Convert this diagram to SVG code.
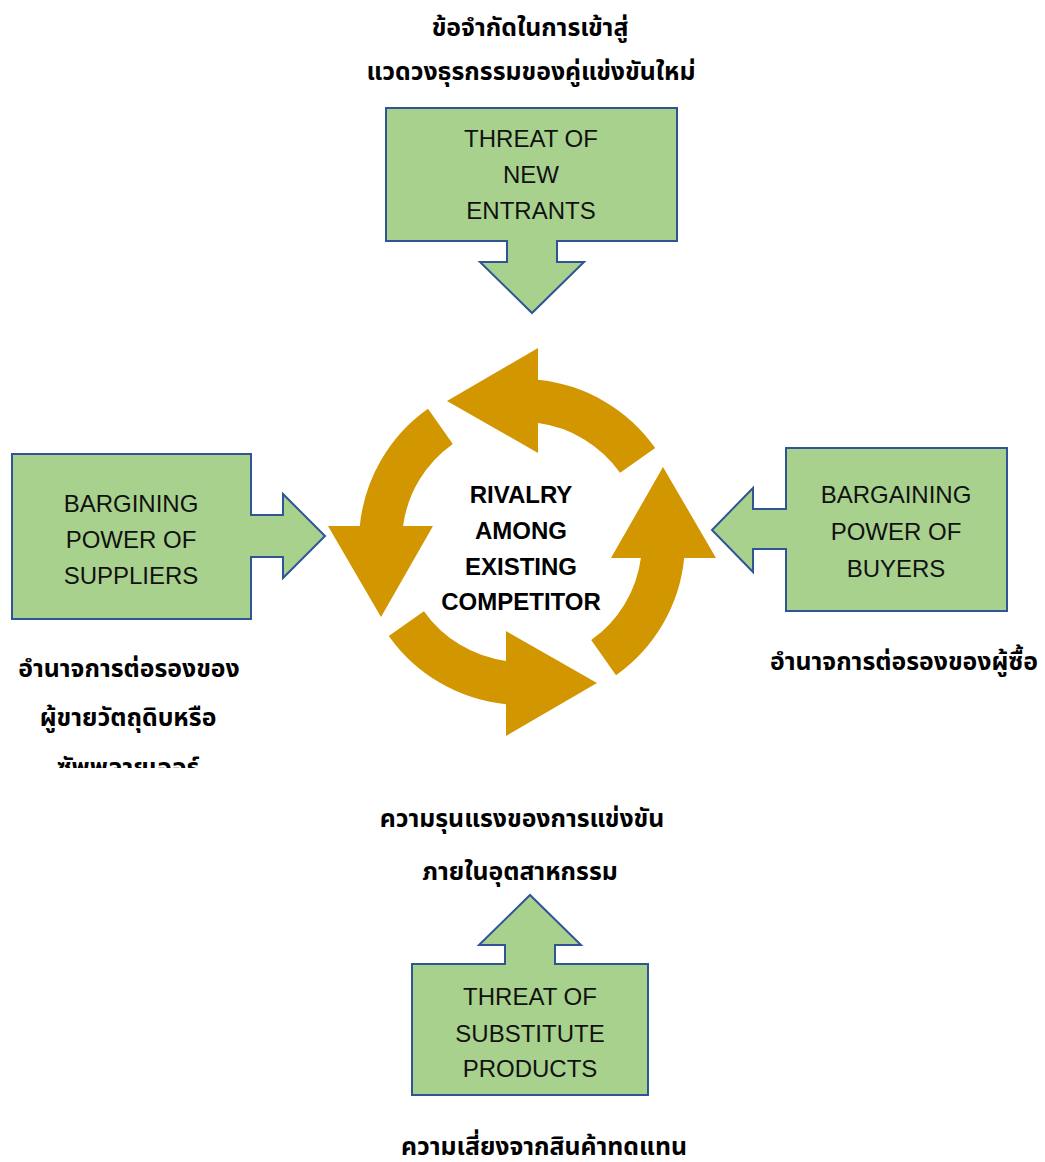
<svg xmlns="http://www.w3.org/2000/svg" xmlns:xlink="http://www.w3.org/1999/xlink" width="1045" height="1162" viewBox="0 0 1045 1162">
  <style>
    .box { fill: #A9D18E; stroke: #2F5597; stroke-width: 2; stroke-linejoin: miter; }
    .lbl { font-family: "Liberation Sans", Arial, sans-serif; font-size: 24px; fill: #111; text-anchor: middle; }
    .ctr { font-family: "Liberation Sans", Arial, sans-serif; font-size: 24px; font-weight: bold; fill: #000; text-anchor: middle; }
    .th { font-family: "Noto Sans Thai", "Noto Sans", "DejaVu Sans", sans-serif; font-size: 24.8px; font-weight: bold; fill: #000; text-anchor: middle; }
    .gold { fill: #D29600; }
  </style>
  <defs>
    <path id="carrow" d="M 133.2 -94.0 A 163 163 0 0 0 16 -162.2 L 16 -194 L -75 -141 L 16 -89 L 16 -118.9 A 120 120 0 0 1 98.1 -69.2 Z"/>
    <clipPath id="clipLeft">
      <rect x="0" y="630" width="300" height="138"/>
    </clipPath>
  </defs>
  <rect width="1045" height="1162" fill="#fff"/>

  <g id="connectors">
    <g transform="translate(522,542)" class="gold">
      <use xlink:href="#carrow"/>
      <use xlink:href="#carrow" transform="rotate(-90)"/>
      <use xlink:href="#carrow" transform="rotate(180)"/>
      <use xlink:href="#carrow" transform="rotate(90)"/>
    </g>
  </g>

  <g id="rivalry">
    <text class="ctr" x="521" y="503">RIVALRY</text>
    <text class="ctr" x="521" y="539">AMONG</text>
    <text class="ctr" x="521" y="575">EXISTING</text>
    <text class="ctr" x="521" y="610">COMPETITOR</text>
  </g>

  <g id="new-entrants">
    <text class="th" x="530" y="36">ข้อจำกัดในการเข้าสู่</text>
    <text class="th" x="531" y="80">แวดวงธุรกรรมของคู่แข่งขันใหม่</text>
    <path class="box" d="M386 108 H677 V241 H557 V262 H584 L532 313 L480 262 H507 V241 H386 Z"/>
    <text class="lbl" x="531" y="147">THREAT OF</text>
    <text class="lbl" x="531" y="183">NEW</text>
    <text class="lbl" x="531" y="219">ENTRANTS</text>
  </g>

  <g id="suppliers">
    <path class="box" d="M12 454 H251 V515 H283 V494 L325 536 L283 578 V557 H251 V619 H12 Z"/>
    <text class="lbl" x="131" y="512">BARGINING</text>
    <text class="lbl" x="131" y="548">POWER OF</text>
    <text class="lbl" x="131" y="584">SUPPLIERS</text>
    <g clip-path="url(#clipLeft)">
      <text class="th" x="129" y="677">อำนาจการต่อรองของ</text>
      <text class="th" x="128" y="726">ผู้ขายวัตถุดิบหรือ</text>
      <text class="th" x="128" y="776">ซัพพลายเออร์</text>
    </g>
  </g>

  <g id="buyers">
    <path class="box" d="M786 448 H1007 V611 H786 V549 H753 V572 L712 530 L753 488 V509 H786 Z"/>
    <text class="lbl" x="896" y="503">BARGAINING</text>
    <text class="lbl" x="896" y="540">POWER OF</text>
    <text class="lbl" x="896" y="577">BUYERS</text>
    <text class="th" x="904" y="670">อำนาจการต่อรองของผู้ซื้อ</text>
  </g>

  <g id="substitutes">
    <text class="th" x="522" y="827">ความรุนแรงของการแข่งขัน</text>
    <text class="th" x="520" y="880">ภายในอุตสาหกรรม</text>
    <path class="box" d="M412 964 H505 V945 H479 L530 895 L581 945 H555 V964 H648 V1095 H412 Z"/>
    <text class="lbl" x="530" y="1005">THREAT OF</text>
    <text class="lbl" x="530" y="1042">SUBSTITUTE</text>
    <text class="lbl" x="530" y="1077">PRODUCTS</text>
    <text class="th" x="544" y="1155">ความเสี่ยงจากสินค้าทดแทน</text>
  </g>
</svg>
